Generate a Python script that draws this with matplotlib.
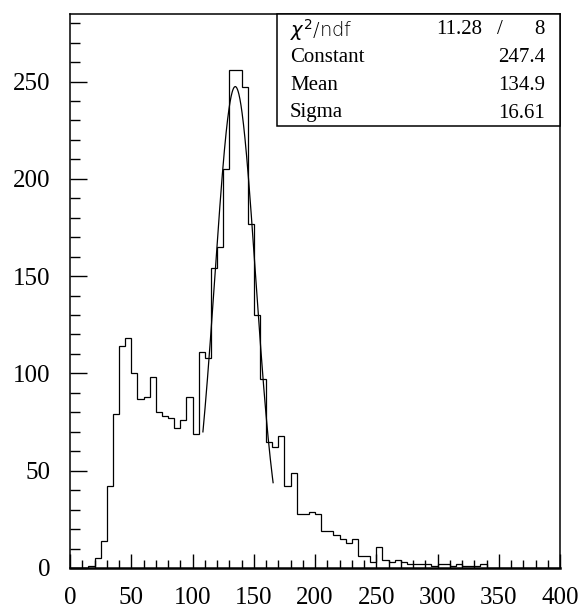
import numpy as np
import matplotlib
matplotlib.use("Agg")
import matplotlib.pyplot as plt
from matplotlib.ticker import MultipleLocator

# Histogram: 80 bins of width 5 from 0 to 400
bin_edges = np.arange(0, 405, 5)
counts = [
    0, 0, 0, 1, 5, 14, 42, 79, 114, 118,
    100, 87, 88, 98, 80, 78, 77, 72, 76, 88,
    69, 111, 108, 154, 165, 205, 256, 256, 247, 177,
    130, 97, 65, 62, 68, 42, 49, 28, 28, 29,
    28, 19, 19, 17, 15, 13, 15, 6, 6, 3,
    11, 4, 3, 4, 3, 2, 2, 2, 2, 1,
    2, 2, 1, 2, 1, 1, 1, 2, 0, 0,
    0, 0, 0, 0, 0, 0, 0, 0, 0, 0,
]

# Gaussian fit parameters and fit range
fit_chi2, fit_ndf = 11.28, 8
fit_constant = 247.4
fit_mean = 134.9
fit_sigma = 16.61
fit_range = (108.5, 165.8)

x_ticks = [0, 50, 100, 150, 200, 250, 300, 350, 400]
y_ticks = [0, 50, 100, 150, 200, 250]

plt.rcParams["font.family"] = ["Liberation Serif", "DejaVu Serif"]
plt.rcParams["mathtext.fontset"] = "dejavusans"

fig = plt.figure(figsize=(5.79, 6.08), dpi=100)
ax = fig.add_axes([70 / 579, 40 / 608, 490 / 579, 554 / 608])

ax.stairs(counts, bin_edges, color="black", linewidth=0.9, fill=False)

xf = np.linspace(fit_range[0], fit_range[1], 200)
yf = fit_constant * np.exp(-0.5 * ((xf - fit_mean) / fit_sigma) ** 2)
ax.plot(xf, yf, color="black", linewidth=0.9)

ax.set_xlim(0, 400)
ax.set_ylim(0, 284.7)
ax.set_xticks(x_ticks)
ax.set_yticks(y_ticks)
ax.xaxis.set_minor_locator(MultipleLocator(10))
ax.yaxis.set_minor_locator(MultipleLocator(10))
ax.tick_params(which="both", direction="in", top=False, right=False,
               labelsize=18, width=1.0, color="black")
ax.tick_params(axis="y", which="major", length=12, pad=14)
ax.tick_params(axis="y", which="minor", length=7)
ax.tick_params(axis="x", which="major", length=10, pad=14)
ax.tick_params(axis="x", which="minor", length=6)
for side in ["left", "top", "right"]:
    ax.spines[side].set_linewidth(1.1)
ax.spines["bottom"].set_linewidth(1.8)

# Fit statistics box in the upper right corner
bx0, by0, bx1, by1 = 277, 14, 560, 126
to_fig = lambda px, py: (px / 579, 1 - py / 608)
x0f, y1f = to_fig(bx0, by1)
x1f, y0f = to_fig(bx1, by0)
box = plt.Rectangle((x0f, y1f), x1f - x0f, y0f - y1f, transform=fig.transFigure,
                    facecolor="white", edgecolor="black", linewidth=1.1, zorder=5)
fig.patches.append(box)

label_x = 290 / 579
value_x = 545 / 579
row_y = [30, 58, 86, 113]
fs = 15
fig.text(label_x, 1 - row_y[0] / 608, r"$\chi^2$/ndf", family="DejaVu Sans",
         fontsize=14, va="center", ha="left", zorder=6, fontweight="light")
fig.text(482 / 579, 1 - row_y[0] / 608, f"{fit_chi2:.2f}", fontsize=fs,
         va="center", ha="right", zorder=6)
fig.text(500 / 579, 1 - row_y[0] / 608, "/", fontsize=fs, va="center",
         ha="center", zorder=6)
fig.text(value_x, 1 - row_y[0] / 608, f"{fit_ndf}", fontsize=fs, va="center",
         ha="right", zorder=6)
rows = [("Constant", f"{fit_constant:.1f}"),
        ("Mean", f"{fit_mean:.1f}"),
        ("Sigma", f"{fit_sigma:.2f}")]
for (name, val), py in zip(rows, row_y[1:]):
    fig.text(label_x, 1 - py / 608, name, fontsize=fs, va="center", ha="left", zorder=6)
    fig.text(value_x, 1 - py / 608, val, fontsize=fs, va="center", ha="right", zorder=6)

fig.savefig("out.png", dpi=100)
